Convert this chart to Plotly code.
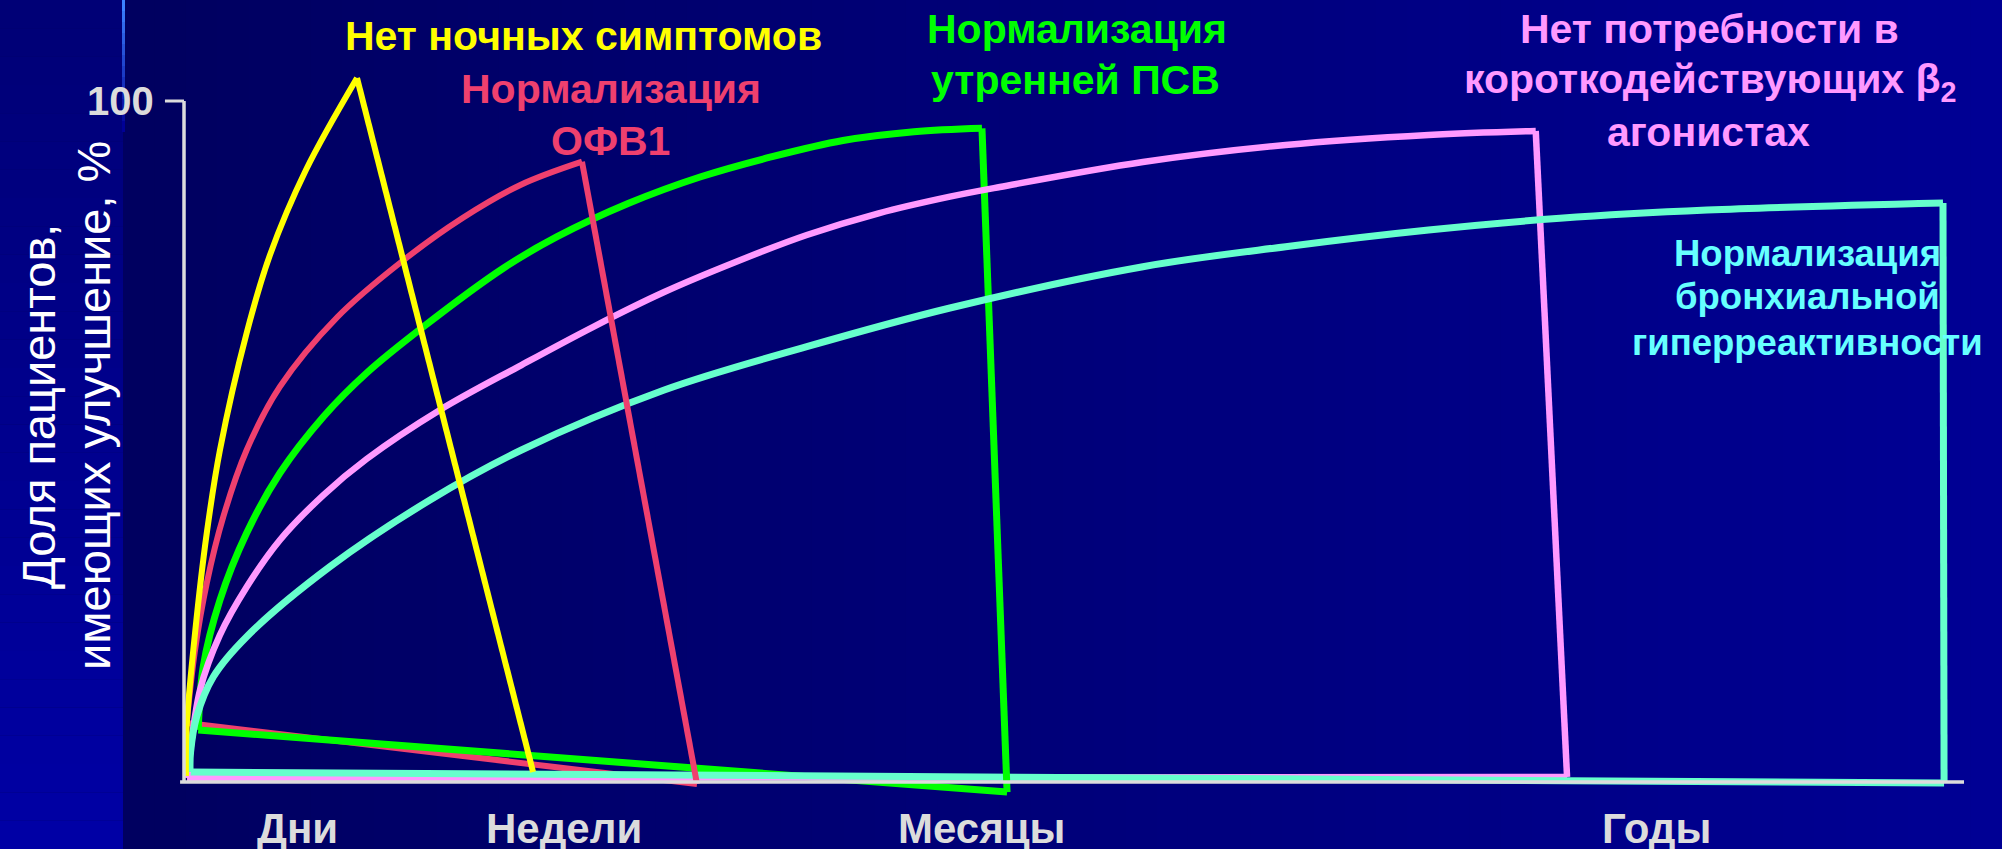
import plotly.graph_objects as go

# ---------------------------------------------------------------------------
# Data (x: relative treatment time, 0-100; y: share of patients improved, %)
# ---------------------------------------------------------------------------
# Night symptoms
night_arc_x = [0.11, 0.15, 0.62, 1.28, 2.02, 3.52, 4.83, 6.85, 9.72]
night_arc_y = [0.88, 8.12, 21.88, 36.56, 48.75, 65.93, 77.39, 89.87, 103.38]
night_drop = [19.61, 1.47]

# FEV1
fev1_arc_x = [0.15, 0.62, 1.28, 2.21, 3.52, 5.39, 8.62, 12.13, 15.65, 18.90, 22.36]
fev1_arc_y = [8.66, 19.38, 29.22, 38.96, 48.75, 58.05, 68.28, 76.21, 82.82, 87.67, 91.09]
fev1_drop = [28.82, -0.29]

# Morning PEF
pef_arc_x = [0.80, 1.08, 2.02, 3.52, 5.39, 7.83, 10.26, 13.43, 17.96, 20.96, 24.98,
             28.99, 32.98, 37.02, 41.01, 44.83]
pef_arc_y = [7.64, 16.93, 26.73, 36.56, 45.37, 53.64, 60.06, 66.81, 75.48, 80.07, 84.98,
             88.84, 91.78, 94.20, 95.49, 95.99]
pef_drop = [46.24, -1.47]

# Short-acting beta2 agonists
saba_arc_x = [0.17, 0.25, 0.90, 2.02, 3.52, 5.39, 7.83, 10.26, 14.38, 18.96, 22.97, 26.98,
              30.99, 34.99, 39.02, 43.03, 45.84, 53.87, 61.89, 69.92, 75.94]
saba_arc_y = [0.59, 2.35, 13.51, 21.59, 28.63, 35.54, 42.14, 47.43, 54.63, 61.23, 66.81, 71.95,
              76.36, 80.32, 83.51, 85.95, 87.37, 91.04, 93.54, 95.01, 95.59]
saba_drop = [77.70, 0.73]

# Bronchial hyperreactivity
bhr_arc_x = [0.34, 0.37, 0.71, 1.65, 3.52, 8.20, 13.82, 18.96, 26.98, 34.99, 43.03,
             53.87, 61.89, 69.92, 77.30, 85.56, 98.82]
bhr_arc_y = [1.47, 4.41, 9.59, 15.46, 21.34, 31.62, 41.41, 48.75, 57.56, 63.92, 69.60,
             75.67, 78.61, 81.06, 82.78, 83.99, 85.02]
bhr_drop = [98.88, -0.15]

# Texts
night_label = ["Нет ночных симптомов"]
fev1_label = ["Нормализация", "ОФВ1"]
pef_label = ["Нормализация", "утренней ПСВ"]
saba_label = ["Нет потребности в", "короткодействующих β<sub>2</sub>", "агонистах"]
bhr_label = ["Нормализация", "бронхиальной", "гиперреактивности"]
period_labels = ["Дни", "Недели", "Месяцы", "Годы"]
period_pos = [6.35, 21.35, 44.78, 82.75]
y_tick_value = 100
y_title = ["Доля пациентов,", "имеющих улучшение, %"]

# ---------------------------------------------------------------------------
W, H = 2002, 849
X_RANGE = [-10.3371, 102.1348]
Y_RANGE = [-9.8385, 114.8311]

YELLOW = "#ffff00"
RED = "#ef406e"
GREEN = "#00ff00"
PINK = "#ff99ff"
AQUA = "#66ffcc"
AQUA_TEXT = "#66ffff"
GREY = "#dcdcdc"
FONT = "Liberation Sans, Arial, sans-serif"


def pxx(p):
    return p / W


def pxy(p):
    return 1 - p / H


fig = go.Figure()


def line(x, y, color, width, shape="linear"):
    fig.add_trace(go.Scatter(
        x=x, y=y, mode="lines",
        line=dict(color=color, width=width, shape=shape),
        hoverinfo="skip", showlegend=False,
    ))


# closing segments back to the start of each curve
line([fev1_drop[0], fev1_arc_x[0]], [fev1_drop[1], fev1_arc_y[0]], RED, 6)
line([pef_drop[0], pef_arc_x[0]], [pef_drop[1], pef_arc_y[0]], GREEN, 7)
line([saba_drop[0], saba_arc_x[0]], [saba_drop[1], saba_arc_y[0]], PINK, 6.5)
line([bhr_drop[0], bhr_arc_x[0]], [bhr_drop[1], bhr_arc_y[0]], AQUA, 7)

# rising curves and their drops
for ax, ay, drop, col, w in [
    (pef_arc_x, pef_arc_y, pef_drop, GREEN, 7),
    (saba_arc_x, saba_arc_y, saba_drop, PINK, 6.5),
    (bhr_arc_x, bhr_arc_y, bhr_drop, AQUA, 7),
    (fev1_arc_x, fev1_arc_y, fev1_drop, RED, 6),
    (night_arc_x, night_arc_y, night_drop, YELLOW, 6),
]:
    line(ax, ay, col, w, "spline")
    line([ax[-1], drop[0]], [ay[-1], drop[1]], col, w)

shapes = []

# background: left band with vertical shading
n = 30
for i in range(n):
    t = i / (n - 1)
    b = int(118 + (165 - 118) * t)
    shapes.append(dict(type="rect", xref="paper", yref="paper", layer="below",
                       x0=0, x1=pxx(123), y0=pxy(H * (i + 1) / n), y1=pxy(H * i / n),
                       line=dict(width=0), fillcolor=f"rgb(0,0,{b})"))
# background: main area shading left to right
n = 60
x_start = 123
for i in range(n):
    t = i / (n - 1)
    b = int(96 + (148 - 96) * t)
    x0 = x_start + (W - x_start) * i / n
    x1 = x_start + (W - x_start) * (i + 1) / n + 1
    shapes.append(dict(type="rect", xref="paper", yref="paper", layer="below",
                       x0=pxx(x0), x1=pxx(min(x1, W)), y0=0, y1=1,
                       line=dict(width=0), fillcolor=f"rgb(0,0,{b})"))
# bright accent line at the top of the band edge
seg = 12
for i in range(seg):
    t = i / (seg - 1)
    a = 1.0 - t
    r = int(60 * a)
    g = int(130 * a)
    b = int(255 * a + 150 * (1 - a))
    shapes.append(dict(type="line", xref="paper", yref="paper", layer="below",
                       x0=pxx(123.5), x1=pxx(123.5),
                       y0=pxy(i * 11), y1=pxy((i + 1) * 11),
                       line=dict(color=f"rgb({r},{g},{b})", width=3)))

# axes
shapes.append(dict(type="line", xref="x", yref="y", layer="above",
                   x0=0, x1=0, y0=0, y1=y_tick_value, line=dict(color=GREY, width=3.5)))
shapes.append(dict(type="line", xref="x", yref="y", layer="above",
                   x0=-0.22, x1=100, y0=0, y1=0, line=dict(color=GREY, width=3.5)))
shapes.append(dict(type="line", xref="x", yref="y", layer="above",
                   x0=-1.07, x1=0, y0=y_tick_value, y1=y_tick_value,
                   line=dict(color=GREY, width=3)))

annotations = []


def label(text, x, y, color, size, bold=True, angle=0, xanchor="center", xref="paper", yref="paper"):
    annotations.append(dict(
        text=f"<b>{text}</b>" if bold else text,
        x=x, y=y, xref=xref, yref=yref, xanchor=xanchor, yanchor="middle",
        showarrow=False, textangle=angle,
        font=dict(family=FONT, size=size, color=color),
    ))


# tick label
label(str(y_tick_value), -1.55, y_tick_value, GREY, 40, xanchor="right", xref="x", yref="y")
# period labels under the time axis
for txt, xp in zip(period_labels, period_pos):
    label(txt, xp, -6.9, GREY, 42, xref="x", yref="y")

# y title (two rotated lines)
label(y_title[0], pxx(38), pxy(407), "#ffffff", 47, bold=False, angle=-90)
label(y_title[1], pxx(93), pxy(406), "#ffffff", 47, bold=False, angle=-90)

# curve captions
for txt, (x, y) in zip(night_label, [(583, 36)]):
    label(txt, pxx(x), pxy(y), YELLOW, 41)
for txt, (x, y) in zip(fev1_label, [(611, 89), (610, 141)]):
    label(txt, pxx(x), pxy(y), RED, 41)
for txt, (x, y) in zip(pef_label, [(1077, 29), (1075, 80)]):
    label(txt, pxx(x), pxy(y), GREEN, 41)
for txt, (x, y) in zip(saba_label, [(1709, 29), (1710, 82), (1708, 132)]):
    label(txt, pxx(x), pxy(y), PINK, 41)
for txt, (x, y) in zip(bhr_label, [(1807, 253), (1807, 296), (1807, 342)]):
    label(txt, pxx(x), pxy(y), AQUA_TEXT, 36.5)

fig.update_layout(
    width=W, height=H,
    margin=dict(l=0, r=0, t=0, b=0),
    paper_bgcolor="#000066",
    plot_bgcolor="rgba(0,0,0,0)",
    xaxis=dict(range=X_RANGE, visible=False, fixedrange=True),
    yaxis=dict(range=Y_RANGE, visible=False, fixedrange=True),
    shapes=shapes,
    annotations=annotations,
    showlegend=False,
)

fig.write_html("out.html", config={"displayModeBar": False})
